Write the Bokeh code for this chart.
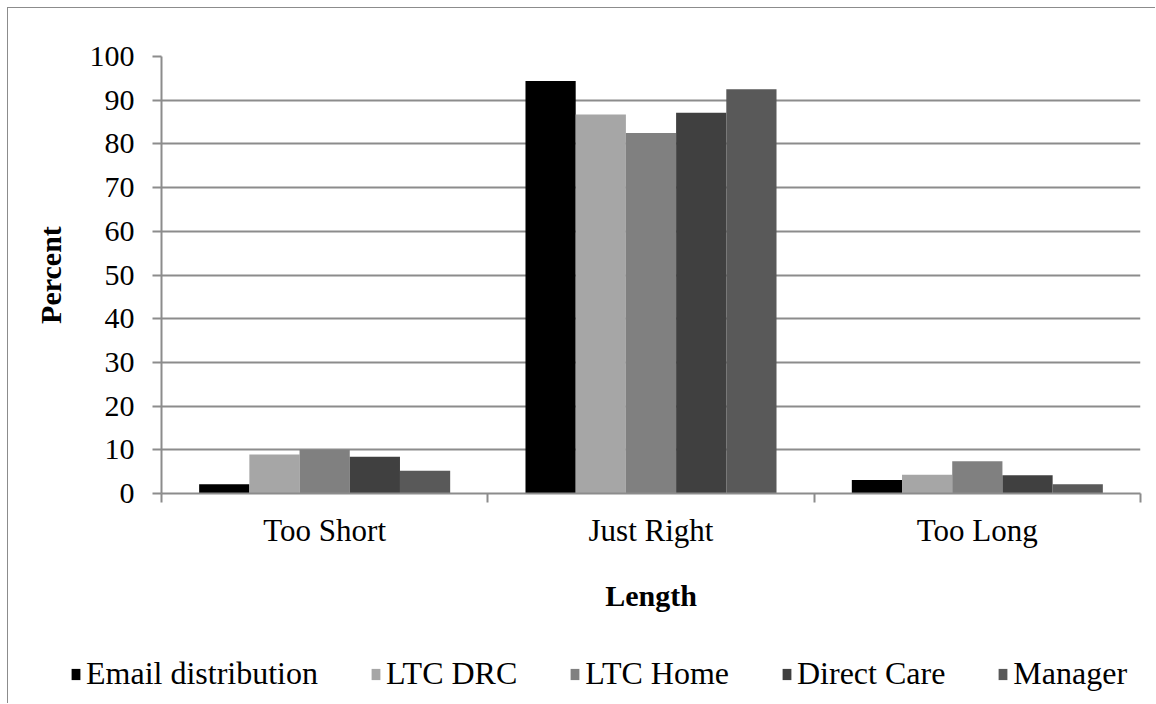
from bokeh.plotting import figure
from bokeh.models import ColumnDataSource, Range1d, FixedTicker, Legend, LegendItem
from bokeh.transform import dodge
from bokeh.embed import file_html
from bokeh.resources import INLINE
import numpy as np

categories = ["Too Short", "Just Right", "Too Long"]
series_names = ["Email distribution", "LTC DRC", "LTC Home", "Direct Care", "Manager"]
email_distribution = [2.1, 94.4, 3.1]
ltc_drc = [8.9, 86.7, 4.3]
ltc_home = [10.0, 82.5, 7.4]
direct_care = [8.4, 87.1, 4.2]
manager = [5.2, 92.5, 2.1]
y_ticks = [0, 10, 20, 30, 40, 50, 60, 70, 80, 90, 100]

series_values = [email_distribution, ltc_drc, ltc_home, direct_care, manager]
colors = ["#000000", "#a6a6a6", "#808080", "#404040", "#595959"]

centers = list(np.arange(len(categories)) + 0.5)
data = {"category": categories, "x": centers}
for name, vals in zip(series_names, series_values):
    data[name] = vals
source = ColumnDataSource(data)

FONT = "Liberation Serif"
GRID = "#8c8c8c"

p = figure(width=1148, height=636, output_backend="svg", toolbar_location=None,
           x_range=Range1d(0, len(categories)), y_range=Range1d(0, 100),
           min_border_left=153, min_border_top=48, min_border_right=16, min_border_bottom=151)
p.margin = (7, 0, 0, 7)
p.styles = {"border-left": "1px solid #8c8c8c", "border-top": "1px solid #8c8c8c"}
p.outline_line_color = None
p.background_fill_color = "white"
p.border_fill_color = "white"

# legend strip below the chart (its bars lie outside its view; only the legend shows)
lf = figure(width=1148, height=60, output_backend="svg", toolbar_location=None,
            x_range=Range1d(0, len(categories)), y_range=Range1d(500, 501),
            x_axis_location=None, y_axis_location=None,
            min_border_left=0, min_border_right=0, min_border_top=0, min_border_bottom=0)
lf.margin = (0, 0, 0, 7)
lf.styles = {"border-left": "1px solid #8c8c8c"}
lf.grid.visible = False
lf.outline_line_color = None
lf.background_fill_color = "white"
lf.border_fill_color = "white"

n = len(series_names)
bw = 1.0 / (n + 1.5)
items = []
for k, (name, col) in enumerate(zip(series_names, colors)):
    off = (k - (n - 1) / 2) * bw
    p.vbar(x=dodge("x", off, range=p.x_range), top=name, width=bw, source=source,
           fill_color=col, line_color=None)
    r = lf.vbar(x=dodge("x", off, range=lf.x_range), top=name, width=bw, source=source,
                fill_color=col, line_color=None)
    items.append(LegendItem(label=name, renderers=[r]))

# y axis
p.yaxis.ticker = FixedTicker(ticks=y_ticks)
p.yaxis.axis_label = "Percent"
p.yaxis.axis_label_text_font = FONT
p.yaxis.axis_label_text_font_style = "bold"
p.yaxis.axis_label_text_font_size = "30px"
p.yaxis.axis_label_text_color = "black"
p.yaxis.axis_label_standoff = 20
p.yaxis.major_label_text_font = FONT
p.yaxis.major_label_text_font_size = "30px"
p.yaxis.major_label_text_color = "black"
p.yaxis.major_label_standoff = 18
p.yaxis.major_tick_out = 9
p.yaxis.major_tick_in = 0
p.yaxis.minor_tick_line_color = None
p.yaxis.axis_line_color = GRID
p.yaxis.axis_line_width = 2
p.yaxis.major_tick_line_color = GRID
p.yaxis.major_tick_line_width = 2

# x axis
p.xaxis.ticker = FixedTicker(ticks=centers, minor_ticks=list(range(len(categories) + 1)))
p.xaxis.major_label_overrides = {c: lab for c, lab in zip(centers, categories)}
p.xaxis.axis_label = "Length"
p.xaxis.axis_label_text_font = FONT
p.xaxis.axis_label_text_font_style = "bold"
p.xaxis.axis_label_text_font_size = "30px"
p.xaxis.axis_label_text_color = "black"
p.xaxis.axis_label_standoff = 28
p.xaxis.major_label_text_font = FONT
p.xaxis.major_label_text_font_size = "31px"
p.xaxis.major_label_text_color = "black"
p.xaxis.major_label_standoff = 10
p.xaxis.major_tick_out = 0
p.xaxis.major_tick_in = 0
p.xaxis.major_tick_line_color = None
p.xaxis.minor_tick_out = 9
p.xaxis.minor_tick_in = 0
p.xaxis.minor_tick_line_color = GRID
p.xaxis.minor_tick_line_width = 2
p.xaxis.axis_line_color = GRID
p.xaxis.axis_line_width = 2

p.xgrid.grid_line_color = None
p.ygrid.grid_line_color = GRID
p.ygrid.grid_line_width = 2

legend = Legend(items=items, orientation="horizontal", location=(62, 11))
legend.label_text_font = FONT
legend.label_text_font_size = "32px"
legend.label_text_color = "black"
legend.glyph_width = 11
legend.glyph_height = 14
legend.label_standoff = 5
legend.spacing = 52
legend.border_line_color = None
legend.background_fill_alpha = 0
legend.padding = 0
legend.margin = 0
lf.add_layout(legend, "center")

open("out.html", "w").write(file_html([p, lf], INLINE))
